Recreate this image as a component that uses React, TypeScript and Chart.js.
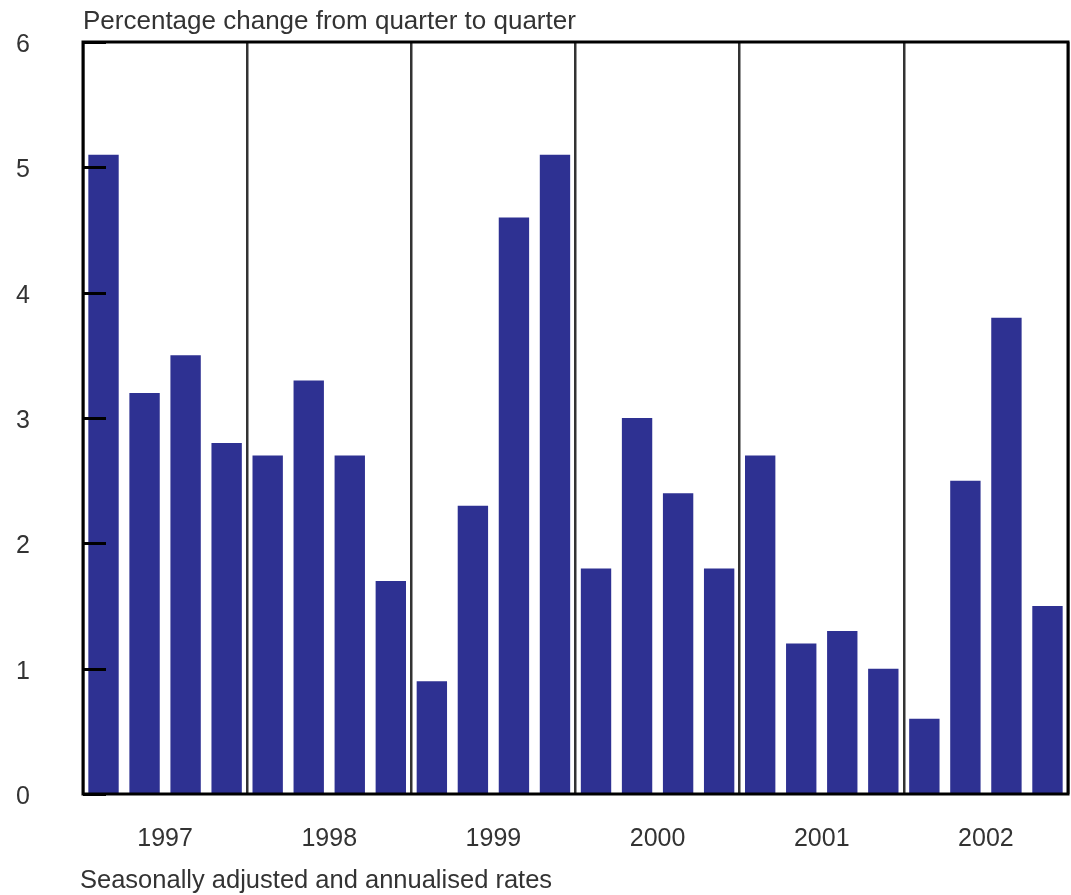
import React, { useEffect, useRef } from "react";
import { Chart, registerables } from "chart.js";

Chart.register(...registerables);

// Quarterly growth, seasonally adjusted and annualised (%)
const years = ["1997", "1998", "1999", "2000", "2001", "2002"];
const quarters = ["Q1", "Q2", "Q3", "Q4"];
const values1997 = [5.1, 3.2, 3.5, 2.8];
const values1998 = [2.7, 3.3, 2.7, 1.7];
const values1999 = [0.9, 2.3, 4.6, 5.1];
const values2000 = [1.8, 3.0, 2.4, 1.8];
const values2001 = [2.7, 1.2, 1.3, 1.0];
const values2002 = [0.6, 2.5, 3.8, 1.5];
const yTicks = [0, 1, 2, 3, 4, 5, 6];

const titleText = "Percentage change from quarter to quarter";
const footerText = "Seasonally adjusted and annualised rates";

const FONT = "'Liberation Sans', Arial, Helvetica, sans-serif";
const TEXT_COLOR = "#333333";
const BAR_COLOR = "#2E3192";

export default function App() {
  const canvasRef = useRef<HTMLCanvasElement | null>(null);

  useEffect(() => {
    document.body.style.margin = "0";
    const canvas = canvasRef.current;
    if (!canvas) return;

    const quarterLabels: string[] = [];
    years.forEach((y) => quarters.forEach((q) => quarterLabels.push(`${y} ${q}`)));
    const values = [
      ...values1997,
      ...values1998,
      ...values1999,
      ...values2000,
      ...values2001,
      ...values2002,
    ];

    // Frame, inward tick marks on the value axis, and the two captions
    const framePlugin = {
      id: "frame",
      afterDatasetsDraw(chart: any) {
        const { ctx, chartArea } = chart;
        const { left, top, right, bottom } = chartArea;
        const yScale = chart.scales.y;
        ctx.save();
        ctx.strokeStyle = "#000";
        ctx.lineWidth = 3;
        ctx.lineCap = "butt";
        // inward ticks
        ctx.beginPath();
        yTicks.forEach((v) => {
          const py = Math.round(yScale.getPixelForValue(v)) + 0.5;
          ctx.moveTo(left, py);
          ctx.lineTo(left + 23, py);
        });
        ctx.stroke();
        // frame
        ctx.strokeRect(left, top, right - left, bottom - top);
        ctx.restore();
      },
      afterDraw(chart: any) {
        const { ctx, chartArea } = chart;
        ctx.save();
        ctx.fillStyle = TEXT_COLOR;
        ctx.textAlign = "left";
        ctx.textBaseline = "alphabetic";
        ctx.font = `26px ${FONT}`;
        ctx.fillText(titleText, chartArea.left, 29);
        ctx.font = `25.5px ${FONT}`;
        ctx.fillText(footerText, chartArea.left - 3, 888);
        ctx.restore();
      },
    };

    const chart = new Chart(canvas, {
      type: "bar",
      data: {
        labels: quarterLabels,
        datasets: [
          {
            data: values,
            backgroundColor: BAR_COLOR,
            borderWidth: 0,
            barPercentage: 0.74,
            categoryPercentage: 1,
            xAxisID: "x",
          },
        ],
      },
      options: {
        responsive: false,
        maintainAspectRatio: false,
        animation: false,
        layout: { padding: { top: 42, right: 3, left: 0, bottom: 0 } },
        plugins: {
          legend: { display: false },
          tooltip: { enabled: false },
          title: { display: false },
        },
        scales: {
          x: {
            type: "category",
            display: false,
            offset: true,
          },
          years: {
            type: "category",
            position: "bottom",
            labels: years,
            offset: true,
            grid: {
              display: true,
              offset: true,
              color: "#333333",
              lineWidth: 2.5,
              drawTicks: false,
            },
            border: { display: false },
            ticks: {
              color: TEXT_COLOR,
              font: { family: FONT, size: 25 },
              padding: 30,
              maxRotation: 0,
            },
            afterFit(scale: any) {
              scale.height = 101;
              scale.paddingLeft = 0;
              scale.paddingRight = 0;
            },
          },
          y: {
            min: 0,
            max: 6,
            position: "left",
            afterBuildTicks(scale: any) {
              scale.ticks = yTicks.map((v) => ({ value: v }));
            },
            grid: { display: false, drawTicks: false },
            border: { display: false },
            ticks: {
              color: TEXT_COLOR,
              font: { family: FONT, size: 25 },
              padding: 53,
              labelOffset: 3,
            },
            afterFit(scale: any) {
              scale.width = 83;
              scale.paddingTop = 0;
              scale.paddingBottom = 0;
            },
          },
        },
      },
      plugins: [framePlugin],
    } as any);

    return () => chart.destroy();
  }, []);

  return (
    <div style={{ width: 1071, height: 895 }}>
      <canvas ref={canvasRef} width={1071} height={895} style={{ display: "block" }} />
    </div>
  );
}
